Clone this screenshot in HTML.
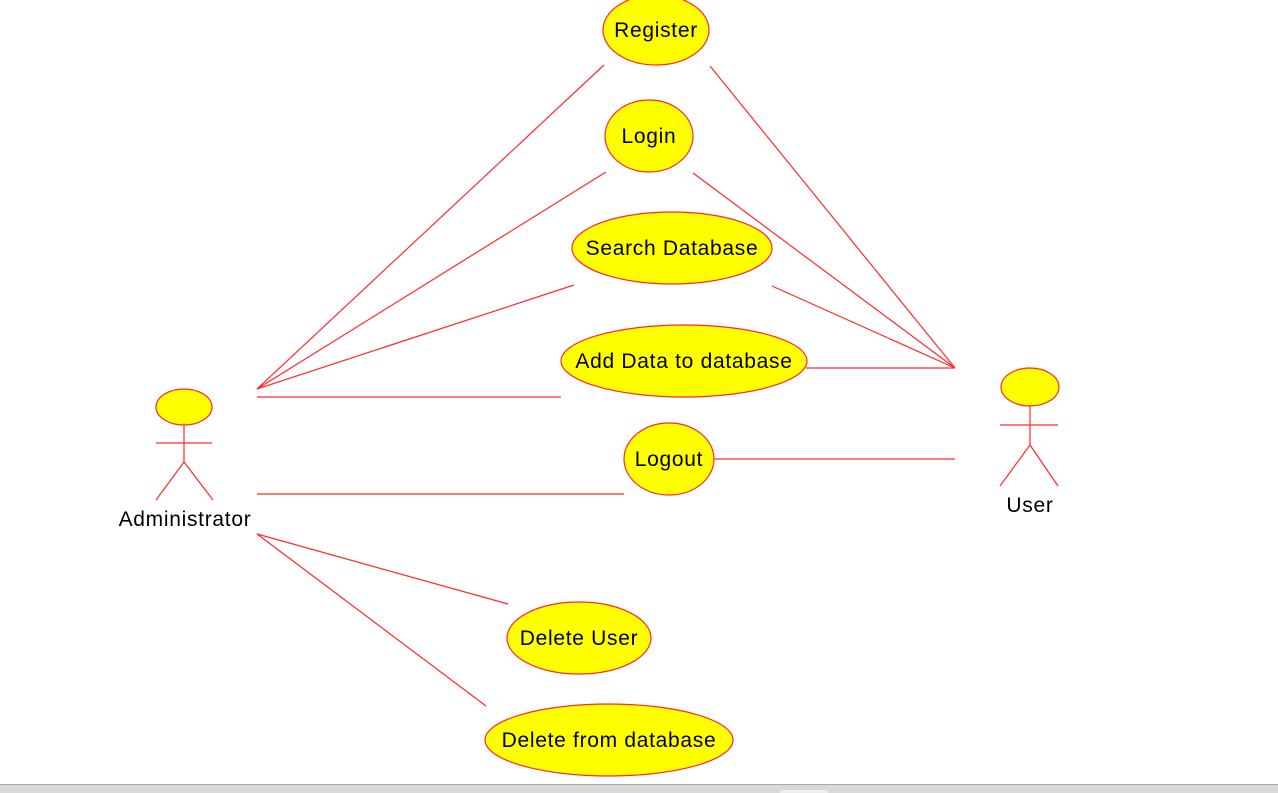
<!DOCTYPE html>
<html><head><meta charset="utf-8"><style>
html,body{margin:0;padding:0;background:#fff;width:1278px;height:793px;overflow:hidden}
svg{display:block}
text{font-family:"Liberation Sans",Arial,sans-serif;font-size:21px;letter-spacing:0.7px;fill:#000}
</style></head><body>
<svg width="1278" height="793" viewBox="0 0 1278 793">
<g stroke="#ff2a2a" stroke-width="1.2" fill="none">
<line x1="257" y1="389" x2="604" y2="65"/>
<line x1="257" y1="389" x2="606" y2="172"/>
<line x1="257" y1="389" x2="574" y2="285"/>
<line x1="257" y1="397" x2="561" y2="397"/>
<line x1="257" y1="494" x2="624" y2="494"/>
<line x1="257" y1="534" x2="508" y2="604"/>
<line x1="257" y1="534" x2="486" y2="706"/>
<line x1="710" y1="66" x2="955" y2="368"/>
<line x1="693" y1="173" x2="955" y2="368"/>
<line x1="772" y1="286" x2="955" y2="368"/>
<line x1="806" y1="368" x2="955" y2="368"/>
<line x1="714" y1="459" x2="955" y2="459"/>
<line x1="184" y1="425" x2="184" y2="462"/>
<line x1="156" y1="443" x2="212" y2="443"/>
<line x1="184" y1="462" x2="156" y2="500"/>
<line x1="184" y1="462" x2="213" y2="500"/>
<line x1="1030" y1="406" x2="1030" y2="445"/>
<line x1="1000" y1="425" x2="1058" y2="425"/>
<line x1="1030" y1="445" x2="1000" y2="486"/>
<line x1="1030" y1="445" x2="1058" y2="486"/>
</g>
<g fill="#ffff00" stroke="#ff2a2a" stroke-width="1.2">
<ellipse cx="184" cy="407" rx="28" ry="18"/>
<ellipse cx="1030" cy="387" rx="29" ry="19"/>
<ellipse cx="656" cy="30" rx="53" ry="35"/>
<ellipse cx="649" cy="136" rx="44" ry="36"/>
<ellipse cx="672" cy="248" rx="100" ry="36"/>
<ellipse cx="684" cy="361" rx="123" ry="36"/>
<ellipse cx="669" cy="459" rx="45" ry="36"/>
<ellipse cx="579" cy="638" rx="72" ry="36"/>
<ellipse cx="609" cy="740" rx="124" ry="36"/>
</g>
<g text-anchor="middle">
<text x="656" y="37">Register</text>
<text x="649" y="143">Login</text>
<text x="672" y="255">Search Database</text>
<text x="684" y="368">Add Data to database</text>
<text x="669" y="466">Logout</text>
<text x="579" y="645">Delete User</text>
<text x="609" y="747">Delete from database</text>
<text x="185" y="526">Administrator</text>
<text x="1030" y="512">User</text>
</g>
<rect x="0" y="784" width="1278" height="9" fill="#d9d9d9"/>
<line x1="0" y1="784.5" x2="1278" y2="784.5" stroke="#aaa" stroke-width="1"/>
<rect x="780" y="790" width="48" height="6" rx="3" fill="#eee"/>
</svg>
</body></html>
